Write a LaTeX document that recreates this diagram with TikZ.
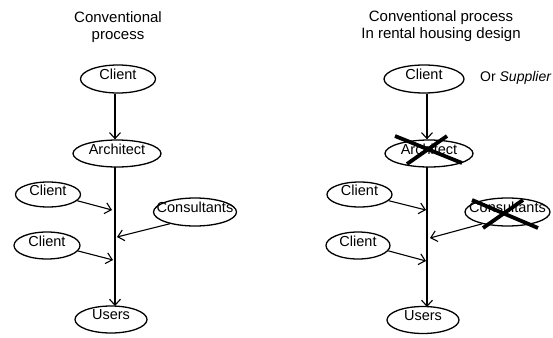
\documentclass[tikz,border=0pt]{standalone}
\usepackage{fontspec}
\setmainfont{Liberation Sans}
\usetikzlibrary{shapes.geometric,arrows.meta}
\tikzset{
  el/.style={draw, ellipse, inner sep=0pt, line width=1.3pt},
  lab/.style={font=\fontsize{14.5}{16}\selectfont, inner sep=0pt, yshift=4.5pt},
  arr/.style={line width=1.1pt, -{Straight Barb[length=6pt,width=11pt,line width=1.1pt]}},
  cross/.style={line width=3.8pt, line cap=butt},
  ttl/.style={font=\fontsize{15}{17}\selectfont, align=center, inner sep=0pt}
}
\begin{document}
\begin{tikzpicture}[x=1pt,y=-1pt]
\useasboundingbox (0,0) rectangle (553,337);
% ---------- left diagram ----------
\node[ttl] (lt) at (118,27) {Conventional\\process};
\node[el, minimum width=75pt, minimum height=28pt, label={[lab]center:Client}] (lc) at (118,79) {};
\node[el, minimum width=88pt, minimum height=27pt, label={[lab]center:Architect}] (la) at (117,153.5) {};
\node[el, minimum width=65pt, minimum height=25pt, label={[lab]center:Client}] (lc1) at (48,194.5) {};
\node[el, minimum width=83pt, minimum height=28pt, label={[lab]center:Consultants}] (lcs) at (195,212) {};
\node[el, minimum width=66pt, minimum height=27pt, label={[lab]center:Client}] (lc2) at (47,245.5) {};
\node[el, minimum width=72pt, minimum height=27pt, label={[lab]center:Users}] (lu) at (111,319.5) {};
\coordinate (lp1) at (112,210);
\coordinate (lp2) at (117,237);
\coordinate (lp3) at (113,260);
\coordinate (ltop) at (115,167);
\coordinate (lbot) at (115,306);
\draw[arr] (lc.south -| ltop) -- (la.north -| ltop);
\draw[arr] (ltop) -- (lbot);
\draw[arr] (lc1.-12) -- (lp1);
\draw[arr] (lcs.205) -- (lp2);
\draw[arr] (lc2.-10) -- (lp3);
% ---------- right diagram ----------
\node[ttl] (rt) at (441,26) {Conventional process\\In rental housing design};
\node[el, minimum width=80pt, minimum height=28pt, label={[lab]center:Client}] (rc) at (424,79) {};
\node[font=\fontsize{14}{16}\selectfont, inner sep=0pt, anchor=west] (rs) at (480,77.5) {Or \textit{Supplier}};
\node[el, minimum width=88pt, minimum height=27pt, label={[lab]center:Architect}] (ra) at (429,153.5) {};
\node[el, minimum width=65pt, minimum height=25pt, label={[lab]center:Client}] (rc1) at (359.5,194.5) {};
\node[el, minimum width=85pt, minimum height=28pt, label={[lab]center:Consultants}] (rcs) at (507.5,212) {};
\node[el, minimum width=64pt, minimum height=27pt, label={[lab]center:Client}] (rc2) at (358,245.5) {};
\node[el, minimum width=72pt, minimum height=27pt, label={[lab]center:Users}] (ru) at (423,320) {};
\coordinate (rp1) at (426,210);
\coordinate (rp2) at (430,238);
\coordinate (rp3) at (426,261);
\coordinate (rtop) at (427,167);
\coordinate (rbot) at (427,307);
\draw[arr] (rc.south -| rtop) -- (ra.north -| rtop);
\draw[arr] (rtop) -- (rbot);
\draw[arr] (rc1.-12) -- (rp1);
\draw[arr] (rcs.205) -- (rp2);
\draw[arr] (rc2.-10) -- (rp3);
% crosses
\draw[cross] (395,136) -- (462,163);
\draw[cross] (447,136) -- (407,164);
\draw[cross] (472,200) -- (538,228);
\draw[cross] (523,200) -- (483,228);
\end{tikzpicture}
\end{document}
